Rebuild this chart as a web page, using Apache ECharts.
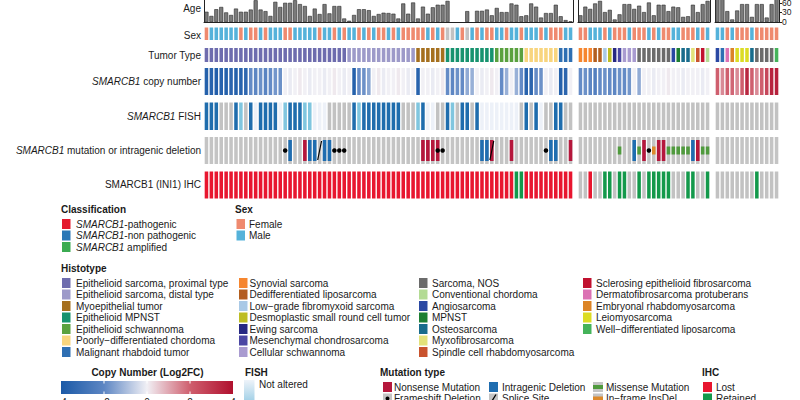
<!DOCTYPE html>
<html>
<head>
<meta charset="utf-8">
<title>SMARCB1 oncoprint</title>
<script src="https://cdn.jsdelivr.net/npm/echarts@6/dist/echarts.min.js"></script>
<style>
  body { margin: 0; background: #fff; overflow: hidden; }
  #chart { width: 800px; height: 400px; }
</style>
</head>
<body>
<div id="chart"></div>
<script>
// ---- data, one array per block (block 1 = pathogenic, 2 = non pathogenic, 3 = amplified) ----
const ageB1 = [32,19,40,47,30,22,42,32,32,39, 68,39,34,19,63,47,60,60,68,56,
               50,19,42,25,56,27,50,50,11,4, 22,40,40,37,19,25,29,28,26,11,
               58,26,61,11,48,26,46,54,54,66, null,null,null,34,null,35,35,39,21,44,
               31,31,58,54,18,21,58,48,14,28, 28,54,18,6,2];
const ageB2 = [21,48,41,58,66,31,38,8,24,56, 56,41,51,31,61,21,54,54,34,48, 46,16,18,54,31,56,66];
const ageB3 = [72,72,34,8,36,56,56,16,56,56,14,56,72];
const ageTicks = [0, 30, 60];

const sexB1 = ['F','M','M','M','M','M','M','F','M','F', 'F','M','F','M','M','M','F','F','M','M',
               'M','M','M','F','M','M','F','M','F','M', 'M','F','M','F','M','F','F','M','F','M',
               'F','F','F','F','F','M','F','M','F','G', 'G','M','F','G','M','F','M','F','F','M',
               'M','F','M','M','F','M','M','M','F','M', 'F','F','F','M','M'];
const sexB2 = ['F','F','M','M','M','F','M','F','F','F', 'M','F','F','F','M','F','M','F','F','M',
               'M','F','F','F','M','F','M'];
const sexB3 = ['M','M','F','M','F','F','F','M','F','F','F','F','F'];

const tumorB1 = ['EP','EP','EP','EP','EP','EP','EP','EP','EP','EP','EP','EP','EP','EP','EP',
                 'EP','EP','EP','EP','EP','EP','EP','EP','EP','EP','EP','EP','EP','EP',
                 'ED','ED','ED','ED','ED','ED','ED','ED','ED','ED','ED','ED','ED','ED',
                 'MY','MY','MY','MY','MY','MY',
                 'EM','EM','EM','EM','EM','EM','EM','EM','EM','EM',
                 'ES','ES','ES','ES','ES','ES',
                 'PC','PC','PC','PC','PC','PC','PC',
                 'MR','MR','MR'];
const tumorB2 = ['SS','SS','SS','DL','DL','LF','DS','EW','MC','CS','CS','CS',
                 'NOS','NOS','NOS','NOS','NOS','NOS','NOS','AS','MP','OS','OS','MF','SR','SE','CC'];
const tumorB3 = ['AS','MR','DF','ER','LM','LM','LM','OS','NOS','NOS','NOS','NOS','WD'];

const cnB1 = [-3.7,-3.6,-3.8,-3.6,-3.7,-3.5,-3.7,-3.6,-3.4, -1.9,-2.0,-1.8,-2.1,-1.9,-1.7,-1.8,
              0,-0.1,0,0.1,0,-0.1,0,0,-0.1,0,0.1,0,-0.1,0,
              -3.7,-1.9,-1.8,-1.4, 0,0.1,-0.1,0,0,0.1,0,-0.1,0, -3.6, 0,0,-0.1,0,0.1,
              -1.9,-2.0,-1.8,-1.9,-1.3,-1.2, 0,-0.1,0,0.1,0, -1.9,-1.2, 0,
              -1.2,-1.9,-3.6,-3.5,-1.9,-1.8, 0,-0.1,0, -3.7,-3.5, 0];
const cnB2 = [-1.9,-1.8,-2.0,-2.3,-1.9,-1.8,-1.9,-2.0,-1.8,-1.9,-1.7, 0, -1.3,
              0,0,-0.1,0,0,0.1,0,0,-0.1,0,0,0,-0.1,0];
const cnB3 = [2.0,1.4,2.0,1.9,1.4,2.0,3.4,2.0,1.4,2.0,2.6,3.5,3.6];
const cnTicks = ['\u22124', '\u22122', '0', '2', '4'];

// d = deletion, l = light, n = not altered, g = not available
const fishB1 = ['d','d','d','g','g','g','d','l','g','d', 'n','d','d','d','d','n','l','d','d','d',
                'l','l','n','n','n','g','g','g','g','g', 'd','l','d','d','d','d','d','d','d','d',
                'g','g','g','l','d','n','n','g','g','d', 'l','g','d','d','g','d','n','n','n','n',
                'n','n','n','n','g','d','g','d','n','g', 'g','d','d','g','g'];
const fishB2 = ['g','g','g','g','g','g','g','g','g','g','g','g','g','g','g','g','g','g','g','g',
                'g','g','g','g','g','g','g'];
const fishB3 = ['g','g','g','g','g','g','g','g','g','g','g','g','g'];

// [column, type]: N nonsense, I intragenic deletion, M missense, O in-frame, F frameshift, S splice
const mutB1 = [[16,'F'],[17,'I'],[20,'N'],[21,'I'],[22,'I'],[23,'S'],[24,'I'],[25,'I'],
               [26,'F'],[27,'F'],[28,'F'],[44,'N'],[45,'N'],[46,'N'],[47,'N'],[47,'F'],[48,'F'],
               [56,'I'],[57,'I'],[58,'N'],[58,'S'],[62,'N'],[69,'F'],[70,'I'],[71,'I'],[74,'N']];
const mutB2 = [[8,'M'],[11,'I'],[12,'M'],[13,'N'],[14,'F'],[15,'O'],[16,'N'],[17,'N'],
               [18,'M'],[19,'M'],[20,'M'],[21,'M'],[22,'M'],[23,'I'],[24,'N'],[25,'M'],[26,'M']];
const mutB3 = [];

const ihcB1 = ['L','L','L','L','L','L','L','L','L','L','L','L','L','L','L','L','L','L','L','L',
               'L','L','L','L','L','L','L','L','L','L','L','L','L','L','L','L','L','L','L','L',
               'L','L','L','L','L','L','L','L','L','L','L','L','L','L','L','L','L','L','L','L',
               'L','L','L','R','R','L','L','L','L','L','L','L','L','L','L'];
const ihcB2 = ['G','G','L','G','G','R','R','G','R','R', 'G','G','R','G','R','R','R','R','R','G',
               'G','G','R','R','G','G','R'];
const ihcB3 = ['G','G','G','G','G','G','G','G','R','G','G','G','G'];

const rowLabels = ['Age', 'Sex', 'Tumor Type', '{i|SMARCB1}{r| copy number}', '{i|SMARCB1}{r| FISH}',
                   '{i|SMARCB1}{r| mutation or intragenic deletion}', 'SMARCB1 (INI1) IHC'];
const classLabels = ['{i|SMARCB1}{r|-pathogenic}', '{i|SMARCB1}{r|-non pathogenic}', '{i|SMARCB1}{r| amplified}'];
const sexLabels = ['Female', 'Male'];
const histoColumns = [
  [['EP','Epithelioid sarcoma, proximal type'],['ED','Epithelioid sarcoma, distal type'],['MY','Myoepithelial tumor'],
   ['EM','Epithelioid MPNST'],['ES','Epithelioid schwannoma'],['PC','Poorly\u2212differentiated chordoma'],['MR','Malignant rhabdoid tumor']],
  [['SS','Synovial sarcoma'],['DL','Dedifferentiated liposarcoma'],['LF','Low\u2212grade fibromyxoid sarcoma'],
   ['DS','Desmoplastic small round cell tumor'],['EW','Ewing sarcoma'],['MC','Mesenchymal chondrosarcoma'],['CS','Cellular schwannoma']],
  [['NOS','Sarcoma, NOS'],['CC','Conventional chordoma'],['AS','Angiosarcoma'],['MP','MPNST'],
   ['OS','Osteosarcoma'],['MF','Myxofibrosarcoma'],['SR','Spindle cell rhabdomyosarcoma']],
  [['SE','Sclerosing epithelioid fibrosarcoma'],['DF','Dermatofibrosarcoma protuberans'],['ER','Embryonal rhabdomyosarcoma'],
   ['LM','Leiomyosarcoma'],['WD','Well\u2212differentiated liposarcoma']]
];

// ---- styles ----
const FONT = '"Liberation Sans", Arial, sans-serif';
const INK = '#1a1a1a';
const sexColors = { F: '#ef8a6f', M: '#55b2da', G: '#c2c2c2' };
const tumorColors = {
  EP: '#6e6cae', ED: '#9d9ac9', MY: '#a5701f', EM: '#17936f', ES: '#5aa13f', PC: '#f8d57e', MR: '#2e6fb3',
  SS: '#f6862f', DL: '#b35e1e', LF: '#a9c9e6', DS: '#bdbd24', EW: '#262882', MC: '#4b47a3', CS: '#a99bd0',
  NOS: '#6b6b6b', CC: '#b3db94', AS: '#2a48a3', MP: '#1d7f33', OS: '#186c8c', MF: '#e3e27a', SR: '#c9532e',
  SE: '#c1112f', DF: '#dc72b4', ER: '#dc8426', LM: '#dcdc24', WD: '#45b35a'
};
const fishColors = { d: '#1f6dad', l: '#80c6df', n: '#edf1f8', g: '#c2c2c2' };
const ihcColors = { L: '#e8162f', R: '#13994b', G: '#c2c2c2' };
const mutColors = { bg: '#c4c4c4', N: '#b5173c', I: '#1f6db0', M: '#4f9a3d', O: '#dd8a2c', F: '#000', S: '#000' };
const classColors = ['#e41a2e', '#2a77b6', '#3bab52'];
const cnColors = ['#1b5aa7', '#5d86c3', '#f1f0f5', '#cf5f6e', '#b0102e'];

const blocks = [ { left: 204, width: 369 }, { left: 578, width: 132 }, { left: 715, width: 64 } ];
const rowBox = { age: [-2, 24], sex: [27.5, 12.5], tumor: [48, 14], cn: [68, 27], fish: [102.5, 27.5], mut: [137, 27], ihc: [171.5, 27] };
const rowOrder = ['age', 'sex', 'tumor', 'cn', 'fish', 'mut', 'ihc'];
const AGE_MAX = 75;

const ageData = [ageB1, ageB2, ageB3];
const sexData = [sexB1, sexB2, sexB3];
const tumorData = [tumorB1, tumorB2, tumorB3];
const cnData = [cnB1, cnB2, cnB3];
const fishData = [fishB1, fishB2, fishB3];
const mutData = [mutB1, mutB2, mutB3];
const ihcData = [ihcB1, ihcB2, ihcB3];

const grid = [], xAxis = [], yAxis = [], series = [], cnSeries = [];
const frame = { color: '#222', width: 1 };

function cells(codes, colors) {
  return codes.map(c => ({ value: 1, itemStyle: { color: colors[c] } }));
}

const mutSymbols = {
  N: { symbol: 'rect', symbolSize: [3.6, 21] },
  I: { symbol: 'rect', symbolSize: [3.6, 21] },
  M: { symbol: 'rect', symbolSize: [3.6, 8] },
  O: { symbol: 'rect', symbolSize: [3.6, 8] },
  F: { symbol: 'circle', symbolSize: 4.5 },
  S: { symbol: 'path://M0,20 L1.4,20 L6,0 L4.6,0 Z', symbolSize: [5, 19] }
};

rowOrder.forEach(key => {
  for (let b = 0; b < 3; b++) {
    const g = grid.length;
    const n = sexData[b].length;
    grid.push({ left: blocks[b].left, width: blocks[b].width, top: rowBox[key][0], height: rowBox[key][1],
                outerBoundsMode: 'none', containLabel: false });
    const isAge = key === 'age';
    xAxis.push({ type: 'category', gridIndex: g, data: Array.from({ length: n }, (_, i) => String(i)),
                 show: isAge, axisLine: { show: isAge, lineStyle: frame }, axisTick: { show: false },
                 axisLabel: { show: false }, splitLine: { show: false } });
    const yi = yAxis.length;
    const base = { type: 'bar', xAxisIndex: g, yAxisIndex: yi, silent: true, barWidth: '72%' };
    if (isAge) {
      yAxis.push({ type: 'value', gridIndex: g, min: 0, max: AGE_MAX, position: 'left',
                   axisLine: { show: true, lineStyle: frame }, axisTick: { show: false },
                   axisLabel: { show: false }, splitLine: { show: false } });
      yAxis.push({ type: 'value', gridIndex: g, min: 0, max: AGE_MAX, interval: 30, position: 'right',
                   axisLine: { show: true, lineStyle: frame },
                   axisTick: { show: b === 2, length: 3, lineStyle: frame },
                   axisLabel: { show: b === 2, margin: 3, fontSize: 8.5, fontFamily: FONT, color: INK,
                                showMaxLabel: false,
                                formatter: v => ageTicks.includes(v) ? String(v) : '' },
                   splitLine: { show: false } });
      series.push(Object.assign({}, base, {
        data: ageData[b].map(v => v === null ? '-' : v), barWidth: '82%',
        itemStyle: { color: '#7b7b7b', borderColor: '#2a2a2a', borderWidth: 0.6 }
      }));
    } else {
      yAxis.push({ type: 'value', gridIndex: g, min: 0, max: 1, show: false });
      if (key === 'sex') series.push(Object.assign({}, base, { data: cells(sexData[b], sexColors) }));
      if (key === 'tumor') series.push(Object.assign({}, base, { data: cells(tumorData[b], tumorColors) }));
      if (key === 'fish') series.push(Object.assign({}, base, { data: cells(fishData[b], fishColors) }));
      if (key === 'ihc') series.push(Object.assign({}, base, { data: cells(ihcData[b], ihcColors) }));
      if (key === 'cn') {
        cnSeries.push(series.length);
        series.push(Object.assign({}, base, { data: cnData[b].map((v, i) => [i, 1, v]), encode: { x: 0, y: 1 } }));
      }
      if (key === 'mut') {
        series.push(Object.assign({}, base, { data: sexData[b].map(() => 1), itemStyle: { color: mutColors.bg } }));
        ['N', 'I', 'M', 'O', 'S', 'F'].forEach(t => {
          const pts = mutData[b].filter(e => e[1] === t).map(e => [e[0], 0.5]);
          if (!pts.length) return;
          series.push(Object.assign({ type: 'scatter', xAxisIndex: g, yAxisIndex: yi, silent: true, z: 4,
                                      data: pts, itemStyle: { color: mutColors[t], opacity: 1 } }, mutSymbols[t]));
        });
      }
    }
  }
});

// ---- labels and legends ----
const rich = {
  i: { fontStyle: 'italic', fontFamily: FONT, fontSize: 10, fill: INK, color: INK },
  r: { fontFamily: FONT, fontSize: 10, fill: INK, color: INK }
};
function txt(x, y, text, extra) {
  return { type: 'text', silent: true, style: Object.assign({
    x: x, y: y, text: text, fill: INK, fontFamily: FONT, fontSize: 10,
    align: 'left', verticalAlign: 'middle', textAlign: 'left', textVerticalAlign: 'middle', rich: rich
  }, extra || {}) };
}
function title(x, y, text, extra) {
  return txt(x, y, text, Object.assign({ fontWeight: 'bold' }, extra || {}));
}
function box(x, y, w, h, fill) {
  return { type: 'rect', silent: true, shape: { x: x, y: y, width: w, height: h }, style: { fill: fill } };
}

const graphic = [];
const rowMid = [8, 35, 55, 81.7, 116.7, 150.7, 184.7];
rowLabels.forEach((t, i) => graphic.push(txt(201, rowMid[i], t, { align: 'right', textAlign: 'right' })));

// Classification / Sex
graphic.push(title(61, 209, 'Classification'));
classLabels.forEach((t, i) => {
  const y = 224 + i * 11.5;
  graphic.push(box(62, y - 5, 8.5, 10, classColors[i]));
  graphic.push(txt(76, y, t));
});
graphic.push(title(235, 209, 'Sex'));
sexLabels.forEach((t, i) => {
  const y = 224 + i * 11.5;
  graphic.push(box(236.5, y - 5, 8.5, 10, sexColors[t[0]]));
  graphic.push(txt(249, y, t));
});

// Histotype
graphic.push(title(61, 268, 'Histotype'));
const histoSwX = [62, 239, 419, 583], histoTxtX = [76, 249.5, 432, 596];
histoColumns.forEach((col, c) => col.forEach((item, i) => {
  const y = 283 + i * 11.5;
  graphic.push(box(histoSwX[c], y - 5, 8.5, 10, tumorColors[item[0]]));
  graphic.push(txt(histoTxtX[c], y, item[1]));
}));

// Copy number colour bar
graphic.push(title(147.5, 372, 'Copy Number (Log2FC)', { align: 'center', textAlign: 'center' }));
graphic.push({ type: 'rect', silent: true, shape: { x: 61, y: 381, width: 172, height: 13 },
  style: { fill: { type: 'linear', x: 0, y: 0, x2: 1, y2: 0,
    colorStops: cnColors.map((c, i) => ({ offset: i / (cnColors.length - 1), color: c })) } } });
cnTicks.forEach((t, i) => {
  const x = 61 + 172 * i / (cnTicks.length - 1);
  if (i > 0 && i < cnTicks.length - 1) {
    graphic.push({ type: 'line', silent: true, shape: { x1: x, y1: 381, x2: x, y2: 383.5 }, style: { stroke: '#fff', lineWidth: 1 } });
    graphic.push({ type: 'line', silent: true, shape: { x1: x, y1: 391.5, x2: x, y2: 394 }, style: { stroke: '#fff', lineWidth: 1 } });
  }
  graphic.push(txt(x, 397, t, { align: 'center', textAlign: 'center', verticalAlign: 'top', textVerticalAlign: 'top' }));
});

// FISH
graphic.push(title(245, 372, 'FISH'));
graphic.push({ type: 'rect', silent: true, shape: { x: 244, y: 380, width: 10.5, height: 22 },
  style: { fill: { type: 'linear', x: 0, y: 0, x2: 0, y2: 1,
    colorStops: [{ offset: 0, color: '#eef3f9' }, { offset: 1, color: '#9fcfe6' }] } } });
graphic.push(txt(259, 384, 'Not altered'));

// Mutation type
graphic.push(title(380, 372, 'Mutation type'));
const r1 = 387, r2 = 398.5;
graphic.push(box(383, r1 - 5, 9, 10, mutColors.N), txt(394, r1, 'Nonsense Mutation'));
graphic.push(box(489, r1 - 5, 9, 10, mutColors.I), txt(502, r1, 'Intragenic Deletion'));
graphic.push(box(593, r1 - 5, 10, 10, mutColors.bg), box(593, r1 - 2, 10, 4, mutColors.M), txt(606, r1, 'Missense Mutation'));
graphic.push(box(383, r2 - 5, 9, 10, mutColors.bg),
  { type: 'circle', silent: true, shape: { cx: 387.5, cy: r2, r: 2 }, style: { fill: '#000' } },
  txt(394, r2, 'Frameshift Deletion'));
graphic.push(box(489, r2 - 5, 9, 10, mutColors.bg),
  { type: 'line', silent: true, shape: { x1: 491, y1: r2 + 4, x2: 496, y2: r2 - 4 }, style: { stroke: '#000', lineWidth: 1.3 } },
  txt(502, r2, 'Splice Site'));
graphic.push(box(593, r2 - 5, 10, 10, mutColors.bg), box(593, r2 - 2, 10, 4, mutColors.O), txt(606, r2, 'In\u2212frame InsDel'));

// IHC
graphic.push(title(702, 372, 'IHC'));
graphic.push(box(703, r1 - 5, 9, 10, ihcColors.L), txt(716, r1, 'Lost'));
graphic.push(box(703, r2 - 5, 9, 10, ihcColors.R), txt(716, r2, 'Retained'));

const chart = echarts.init(document.getElementById('chart'), null, { renderer: 'svg', width: 800, height: 400 });
chart.setOption({
  animation: false,
  backgroundColor: '#fff',
  textStyle: { fontFamily: FONT },
  grid: grid,
  xAxis: xAxis,
  yAxis: yAxis,
  visualMap: { type: 'continuous', show: false, min: -4, max: 4, dimension: 2,
               seriesIndex: cnSeries, inRange: { color: cnColors } },
  series: series,
  graphic: graphic
});
</script>
</body>
</html>
